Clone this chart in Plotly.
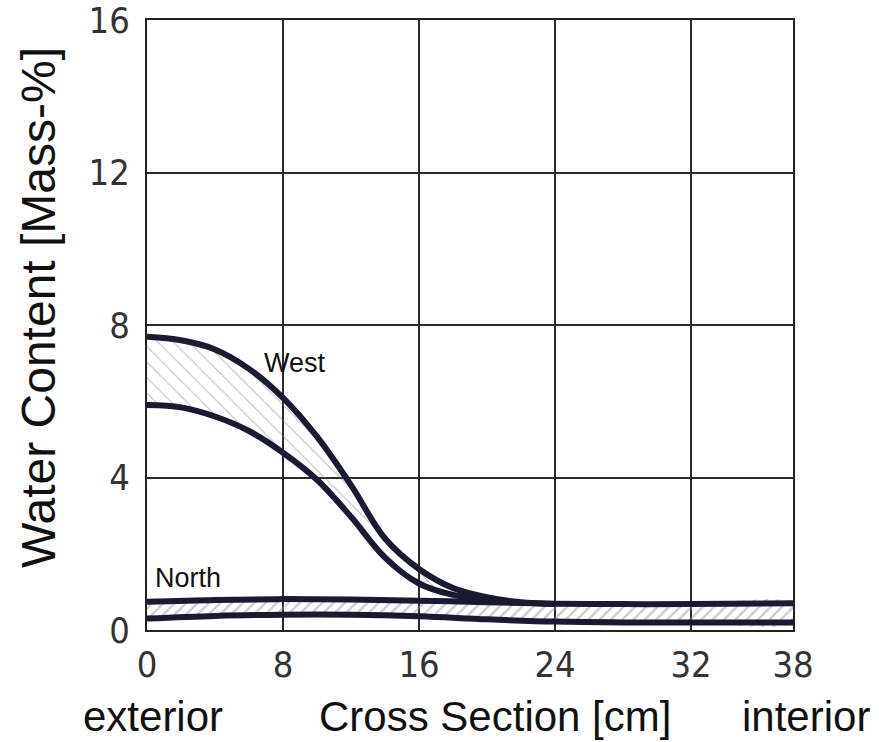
import plotly.graph_objects as go

# ---- data ----
west_up_x = [0, 2, 4, 6, 8, 10, 12, 14, 16, 18, 20, 22, 24]
west_up_y = [7.69, 7.6, 7.36, 6.85, 6.09, 5.07, 3.8, 2.4, 1.6, 1.1, 0.86, 0.73, 0.68]
west_lo_x = [0, 2, 4, 6, 8, 10, 12, 14, 16, 18, 20, 21]
west_lo_y = [5.9, 5.84, 5.6, 5.22, 4.65, 3.94, 2.97, 1.9, 1.22, 0.92, 0.8, 0.77]
north_x = [0, 4, 8, 12, 16, 20, 24, 28, 32, 38]
north_up_y = [0.74, 0.79, 0.81, 0.8, 0.77, 0.73, 0.69, 0.68, 0.68, 0.7]
north_lo_y = [0.3, 0.37, 0.4, 0.4, 0.36, 0.28, 0.22, 0.2, 0.2, 0.2]

x_ticks = [0, 8, 16, 24, 32, 38]
y_ticks = [0, 4, 8, 12, 16]

LINE = "#1a1a30"
GRID = "#2b2b2b"

fig = go.Figure()

# hatched band West
fig.add_trace(go.Scatter(
    x=west_up_x + west_lo_x[::-1], y=west_up_y + west_lo_y[::-1],
    mode="lines", fill="toself", line=dict(width=0, shape="spline"),
    fillcolor="rgba(255,255,255,0)",
    fillpattern=dict(shape="\\", fgcolor="#7a7a7a", bgcolor="rgba(255,255,255,0)",
                     size=11, solidity=0.1),
    hoverinfo="skip", showlegend=False))

# hatched band North
fig.add_trace(go.Scatter(
    x=north_x + north_x[::-1], y=north_up_y + north_lo_y[::-1],
    mode="lines", fill="toself", line=dict(width=0, shape="spline"),
    fillcolor="rgba(255,255,255,0)",
    fillpattern=dict(shape="/", fgcolor="#9a9a9a", bgcolor="rgba(255,255,255,0)",
                     size=8, solidity=0.3),
    hoverinfo="skip", showlegend=False))

for xs, ys in [(north_x, north_up_y), (north_x, north_lo_y),
               (west_up_x, west_up_y), (west_lo_x, west_lo_y)]:
    fig.add_trace(go.Scatter(x=xs, y=ys, mode="lines",
                             line=dict(color=LINE, width=6, shape="spline"),
                             hoverinfo="skip", showlegend=False))

tickfont = dict(family="Liberation Sans Narrow, DejaVu Sans Condensed, Arial Narrow, sans-serif",
                size=36, color="#333333")
labfont = dict(family="Liberation Sans, Arial, sans-serif", color="#111111")

fig.update_xaxes(range=[0, 38], tickvals=x_ticks, ticktext=[str(v) for v in x_ticks],
                 showgrid=True, gridcolor=GRID, gridwidth=1.5,
                 showline=True, linecolor="#222222", linewidth=2, mirror=True,
                 ticks="", tickfont=tickfont, ticklabelstandoff=2, zeroline=False,
                 ticklabeloverflow="allow", automargin=False)
fig.update_yaxes(range=[0, 16], tickvals=y_ticks, ticktext=[str(v) for v in y_ticks],
                 showgrid=True, gridcolor=GRID, gridwidth=1.5,
                 showline=True, linecolor="#222222", linewidth=2, mirror=True,
                 ticks="", tickfont=tickfont, ticklabelstandoff=8, zeroline=False,
                 ticklabeloverflow="allow", automargin=False)

bottom_y = (630 - 742) / 610
ann = [
    dict(x=8.7, y=7.0, xref="x", yref="y", text="West", showarrow=False,
         font=dict(size=27, **labfont)),
    dict(x=2.4, y=1.37, xref="x", yref="y", text="North", showarrow=False,
         font=dict(size=27, **labfont)),
    dict(x=(153 - 147) / 646, y=bottom_y, xanchor="center", yanchor="bottom",
         xref="paper", yref="paper",
         text="exterior", showarrow=False, font=dict(size=42, **labfont)),
    dict(x=(495 - 147) / 646, y=bottom_y, xanchor="center", yanchor="bottom",
         xref="paper", yref="paper",
         text="Cross Section [cm]", showarrow=False, font=dict(size=42, **labfont)),
    dict(x=(806 - 147) / 646, y=bottom_y, xanchor="center", yanchor="bottom",
         xref="paper", yref="paper",
         text="interior", showarrow=False, font=dict(size=42, **labfont)),
    dict(x=(38 - 147) / 646, y=(630 - 308) / 610, xanchor="center", yanchor="middle",
         xref="paper", yref="paper",
         text="Water Content [Mass-%]", textangle=-90, showarrow=False,
         font=dict(size=48, **labfont)),
]

fig.update_layout(width=879, height=742,
                  margin=dict(l=147, r=86, t=20, b=112, autoexpand=False),
                  plot_bgcolor="white", paper_bgcolor="white",
                  annotations=ann, showlegend=False)

fig.write_html("out.html")
